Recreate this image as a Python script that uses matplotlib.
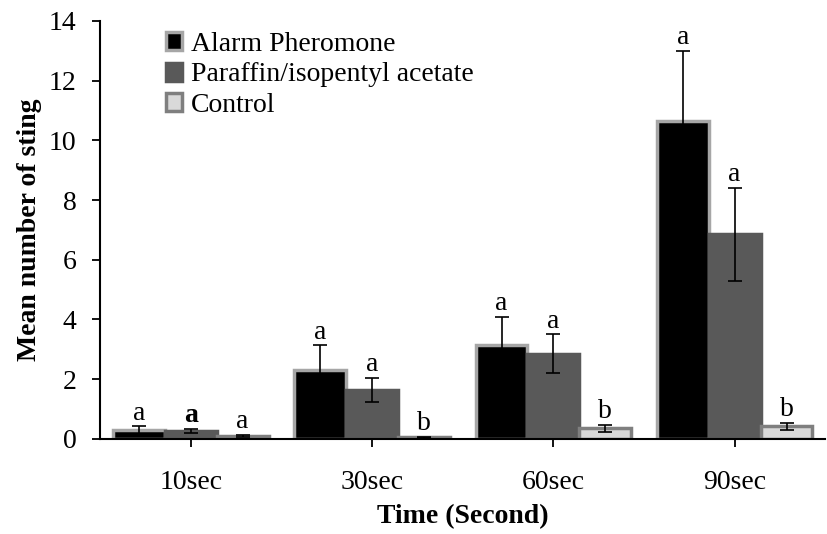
import matplotlib
matplotlib.use("Agg")
import matplotlib.pyplot as plt
import numpy as np

plt.rcParams["font.family"] = ["Liberation Serif", "DejaVu Serif"]

times = ["10sec", "30sec", "60sec", "90sec"]
series = ["Alarm Pheromone", "Paraffin/isopentyl acetate", "Control"]

alarm = [0.30, 2.31, 3.15, 10.65]
alarm_err = [0.13, 0.82, 0.93, 2.35]
paraffin = [0.27, 1.65, 2.85, 6.85]
paraffin_err = [0.06, 0.40, 0.65, 1.55]
control = [0.10, 0.05, 0.35, 0.42]
control_err = [0.03, 0.02, 0.12, 0.13]

letters_alarm = ["a", "a", "a", "a"]
letters_paraffin = ["a", "a", "a", "a"]
letters_control = ["a", "b", "b", "b"]

values = [alarm, paraffin, control]
errors = [alarm_err, paraffin_err, control_err]
letters = [letters_alarm, letters_paraffin, letters_control]
fills = ["#000000", "#595959", "#d9d9d9"]
edges = ["#a6a6a6", "#595959", "#7f7f7f"]

fs = 20

fig = plt.figure(figsize=(8.27, 5.34), dpi=100)
ax = fig.add_axes([0.121, 0.178, 0.877, 0.783])

x = np.arange(len(times))
width = 0.286
offsets = [-width, 0, width]

for vals, errs, lets, fc, ec, off, name in zip(values, errors, letters, fills, edges, offsets, series):
    ax.bar(x + off, vals, width=width, color=fc, edgecolor=ec, linewidth=2.5,
           label=name, zorder=2)
    ax.errorbar(x + off, vals, yerr=errs, fmt="none", ecolor="black",
                elinewidth=1.2, capsize=5, capthick=1.2, zorder=3)
    for xi, v, e, t in zip(x + off, vals, errs, lets):
        bold = (t == "a" and name.startswith("Paraffin") and xi < 0.5)
        ax.text(xi, v + e + 0.02, t, ha="center", va="bottom", fontsize=fs,
                fontweight="bold" if bold else "normal")

ax.set_xlim(-0.5, 3.5)
ax.set_ylim(0, 14)
ax.set_yticks(np.arange(0, 15, 2))
ax.set_xticks(x)
ax.set_xticklabels(times)
ax.tick_params(axis="both", labelsize=fs, length=6, width=1.3, direction="out")
ax.tick_params(axis="x", pad=16)
ax.tick_params(axis="y", pad=11)
for side in ["top", "right"]:
    ax.spines[side].set_visible(False)
for side in ["left", "bottom"]:
    ax.spines[side].set_linewidth(1.5)

ax.set_ylabel("Mean number of sting", fontsize=fs, fontweight="bold", labelpad=5)
ax.set_xlabel("Time (Second)", fontsize=fs, fontweight="bold", labelpad=7)

ax.legend(loc="upper left", bbox_to_anchor=(0.075, 1.0), frameon=False,
          fontsize=fs, handlelength=0.6, handleheight=0.6, handletextpad=0.3,
          labelspacing=0.2, borderaxespad=0)

fig.savefig("out.png", dpi=100)
